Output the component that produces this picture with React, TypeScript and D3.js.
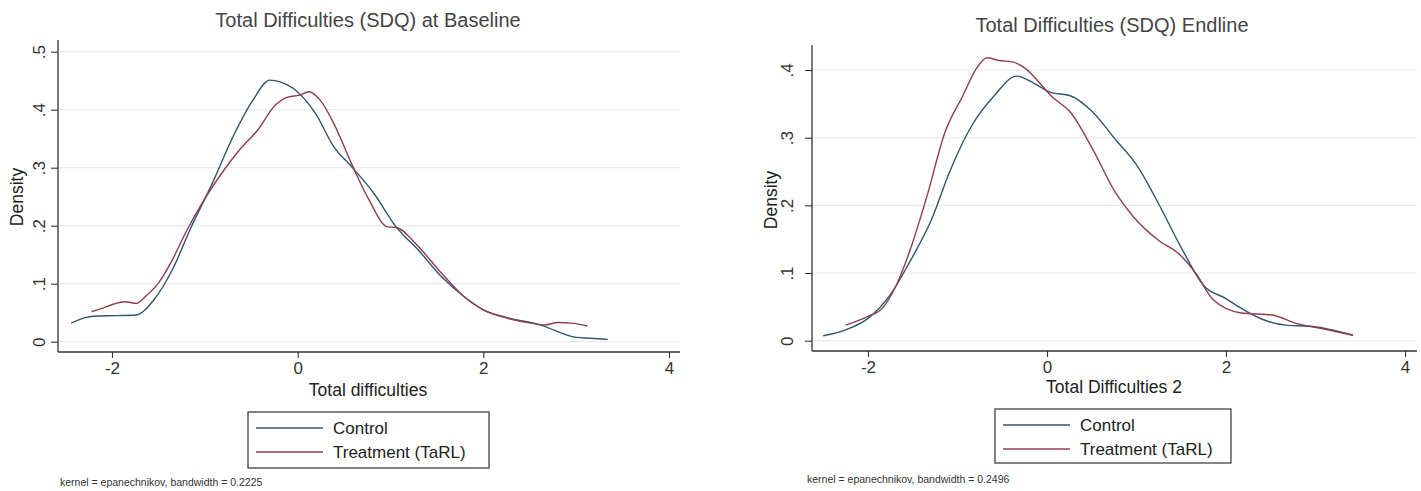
import React, { useEffect, useRef } from "react";
import * as d3 from "d3";

// kernel density estimates
const baselineControl: [number, number][] = [
  [-2.44, 0.032], [-2.3, 0.041], [-2.2, 0.044], [-1.95, 0.045], [-1.74, 0.046],
  [-1.55, 0.072], [-1.35, 0.124], [-1.16, 0.193], [-0.92, 0.273], [-0.68, 0.359],
  [-0.48, 0.417], [-0.3, 0.451], [-0.19, 0.448], [-0.05, 0.437], [0.19, 0.394],
  [0.39, 0.336], [0.58, 0.302], [0.82, 0.256], [1.06, 0.198], [1.3, 0.158],
  [1.55, 0.112], [1.79, 0.078], [2.0, 0.055], [2.22, 0.043], [2.61, 0.029],
  [3.0, 0.0075], [3.15, 0.006], [3.34, 0.004],
];
const baselineTreatment: [number, number][] = [
  [-2.22, 0.052], [-2.1, 0.058], [-1.98, 0.065], [-1.86, 0.069], [-1.74, 0.066],
  [-1.64, 0.078], [-1.5, 0.101], [-1.35, 0.141], [-1.21, 0.187], [-1.01, 0.244],
  [-0.82, 0.29], [-0.63, 0.33], [-0.43, 0.365], [-0.24, 0.408], [-0.1, 0.422],
  [0.02, 0.425], [0.12, 0.431], [0.24, 0.417], [0.39, 0.376], [0.58, 0.307],
  [0.77, 0.244], [0.97, 0.198], [1.06, 0.197], [1.3, 0.164], [1.55, 0.118],
  [1.79, 0.078], [2.0, 0.055], [2.27, 0.04], [2.51, 0.032], [2.66, 0.029],
  [2.8, 0.033], [2.95, 0.032], [3.12, 0.027],
];
const endlineControl: [number, number][] = [
  [-2.5, 0.0074], [-2.25, 0.016], [-2.0, 0.033], [-1.74, 0.07], [-1.54, 0.115],
  [-1.29, 0.179], [-1.09, 0.249], [-0.84, 0.318], [-0.59, 0.362], [-0.34, 0.391],
  [-0.14, 0.38], [0.04, 0.367], [0.26, 0.362], [0.51, 0.338], [0.76, 0.298],
  [1.01, 0.258], [1.26, 0.199], [1.51, 0.135], [1.76, 0.08], [1.99, 0.063],
  [2.17, 0.048], [2.42, 0.031], [2.67, 0.023], [2.97, 0.021], [3.42, 0.008],
];
const endlineTreatment: [number, number][] = [
  [-2.25, 0.023], [-2.0, 0.036], [-1.84, 0.048], [-1.69, 0.08], [-1.54, 0.13],
  [-1.34, 0.214], [-1.14, 0.308], [-0.94, 0.362], [-0.79, 0.402], [-0.67, 0.418],
  [-0.54, 0.414], [-0.39, 0.412], [-0.24, 0.402], [-0.09, 0.382], [0.06, 0.36],
  [0.26, 0.338], [0.51, 0.283], [0.76, 0.22], [0.96, 0.184], [1.26, 0.147],
  [1.46, 0.13], [1.66, 0.1], [1.86, 0.06], [2.17, 0.041], [2.52, 0.038],
  [2.77, 0.026], [3.07, 0.018], [3.42, 0.008],
];

const xTicks = [-2, 0, 2, 4];
const baselineYTicks = [0, 0.1, 0.2, 0.3, 0.4, 0.5];
const endlineYTicks = [0, 0.1, 0.2, 0.3, 0.4];
const seriesNames = ["Control", "Treatment (TaRL)"];
const seriesColors = ["#2f5570", "#8e3f4b"];

const FONT = "'Liberation Sans', Arial, sans-serif";

const panels = [
  {
    title: "Total Difficulties (SDQ) at Baseline",
    xTitle: "Total difficulties",
    note: "kernel = epanechnikov, bandwidth = 0.2225",
    series: [baselineControl, baselineTreatment],
    yTicks: baselineYTicks,
    yMax: 0.5,
    axisX: 58, axisTop: 40, axisY: 352, axisRight: 680,
    xRange: [112, 669], yRange: [341.7, 51.7],
    yLabelOff: 19,
    titleX: 368, titleY: 27, xTitleX: 368, xTitleY: 396,
    densityX: 23, densityY: 197,
    legend: { x: 248, y: 412, w: 241, h: 56 },
    noteX: 60, noteY: 486,
  },
  {
    title: "Total Difficulties (SDQ) Endline",
    xTitle: "Total Difficulties 2",
    note: "kernel = epanechnikov, bandwidth = 0.2496",
    series: [endlineControl, endlineTreatment],
    yTicks: endlineYTicks,
    yMax: 0.4,
    axisX: 812, axisTop: 45, axisY: 351, axisRight: 1417,
    xRange: [868, 1405], yRange: [340.7, 70],
    yLabelOff: 25,
    titleX: 1112, titleY: 32, xTitleX: 1114, xTitleY: 393,
    densityX: 777, densityY: 200,
    legend: { x: 995, y: 409, w: 236, h: 54 },
    noteX: 807, noteY: 483,
  },
];

function App() {
  const svgRef = useRef<SVGSVGElement>(null);

  useEffect(() => {
    const svg = d3.select(svgRef.current);
    svg.selectAll("*").remove();

    panels.forEach((p) => {
      const g = svg.append("g");
      const x = d3.scaleLinear().domain([-2, 4]).range(p.xRange);
      const y = d3.scaleLinear().domain([0, p.yMax]).range(p.yRange);

      // horizontal grid
      g.append("g")
        .selectAll("line")
        .data(p.yTicks)
        .enter()
        .append("line")
        .attr("x1", p.axisX)
        .attr("x2", p.axisRight)
        .attr("y1", (d) => y(d))
        .attr("y2", (d) => y(d))
        .attr("stroke", "#e9ecee")
        .attr("stroke-width", 1.2);

      // curves
      const line = d3
        .line<[number, number]>()
        .x((d) => x(d[0]))
        .y((d) => y(d[1]))
        .curve(d3.curveMonotoneX);
      p.series.forEach((s, i) => {
        g.append("path")
          .attr("d", line(s))
          .attr("fill", "none")
          .attr("stroke", seriesColors[i])
          .attr("stroke-width", 1.4);
      });

      // x axis (plain hyphen for negatives, like Stata)
      const xa = g
        .append("g")
        .attr("transform", `translate(0,${p.axisY})`)
        .call(d3.axisBottom(x).tickValues(xTicks).tickSize(6).tickPadding(4).tickFormat((d) => String(d)));
      xa.select(".domain").attr("d", `M${p.axisX},0H${p.axisRight}`);

      // y axis, labels turned vertical
      const ya = g
        .append("g")
        .attr("transform", `translate(${p.axisX},0)`)
        .call(
          d3
            .axisLeft(y)
            .tickValues(p.yTicks)
            .tickSize(7)
            .tickFormat((d) => (d === 0 ? "0" : d3.format(".1f")(d as number).replace(/^0/, "")))
        );
      ya.select(".domain").attr("d", `M0,${p.axisTop}V${p.axisY}`);
      ya.selectAll(".tick text")
        .attr("text-anchor", "middle")
        .attr("dy", "0")
        .attr("x", -p.yLabelOff)
        .attr("y", 0)
        .attr("transform", `rotate(-90,${-p.yLabelOff},0)`)
        .attr("dominant-baseline", "central");

      [xa, ya].forEach((a) => {
        a.attr("font-family", FONT).attr("font-size", 17);
        a.selectAll(".domain").attr("stroke", "#333").attr("stroke-width", 1.3);
        a.selectAll(".tick line").attr("stroke", "#333").attr("stroke-width", 1.1);
        a.selectAll(".tick text").attr("fill", "#333");
      });

      // titles
      g.append("text")
        .attr("x", p.titleX)
        .attr("y", p.titleY)
        .attr("text-anchor", "middle")
        .attr("font-family", FONT)
        .attr("font-size", 20)
        .attr("fill", "#444")
        .text(p.title);
      g.append("text")
        .attr("x", p.xTitleX)
        .attr("y", p.xTitleY)
        .attr("text-anchor", "middle")
        .attr("font-family", FONT)
        .attr("font-size", 17.5)
        .attr("fill", "#222")
        .text(p.xTitle);
      g.append("text")
        .attr("transform", `translate(${p.densityX},${p.densityY}) rotate(-90)`)
        .attr("text-anchor", "middle")
        .attr("font-family", FONT)
        .attr("font-size", 17.5)
        .attr("fill", "#222")
        .text("Density");

      // legend
      const L = p.legend;
      const lg = g.append("g").attr("transform", `translate(${L.x},${L.y})`);
      lg.append("rect")
        .attr("width", L.w)
        .attr("height", L.h)
        .attr("fill", "#fff")
        .attr("stroke", "#333")
        .attr("stroke-width", 1.2);
      seriesNames.forEach((name, i) => {
        const yy = 16 + i * 24;
        lg.append("line")
          .attr("x1", 8)
          .attr("x2", 75)
          .attr("y1", yy)
          .attr("y2", yy)
          .attr("stroke", seriesColors[i])
          .attr("stroke-width", 1.4);
        lg.append("text")
          .attr("x", 85)
          .attr("y", yy + 6)
          .attr("font-family", FONT)
          .attr("font-size", 17)
          .attr("fill", "#222")
          .text(name);
      });

      g.append("text")
        .attr("x", p.noteX)
        .attr("y", p.noteY)
        .attr("font-family", FONT)
        .attr("font-size", 10.5)
        .attr("fill", "#333")
        .text(p.note);
    });
  }, []);

  return (
    <svg
      ref={svgRef}
      width={1421}
      height={491}
      style={{ position: "absolute", left: 0, top: 0, background: "#fff" }}
    />
  );
}

export default App;
